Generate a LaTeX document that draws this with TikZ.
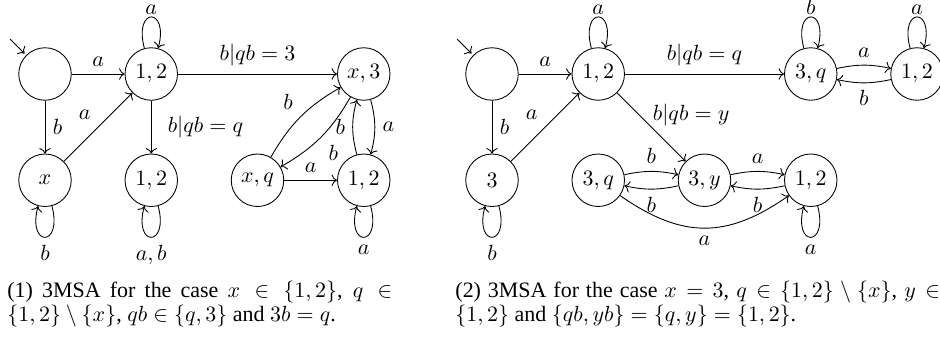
\documentclass[tikz,border=0pt]{standalone}
\usepackage{fontspec}
\setmainfont{Liberation Serif}
\usetikzlibrary{positioning,arrows.meta}

\begin{document}
\begin{tikzpicture}[
	node distance={1.7cm},
	vertex/.style = {draw, circle, minimum size=0.84cm, inner sep=0pt},
	arrow/.style = {->},
	capt/.style = {font=\fontsize{10}{10.8}\selectfont, align=justify, inner sep=0pt, anchor=north west}
	]
	\useasboundingbox (-0.72,1.184) rectangle (14.32,-4.224);
	
	% case x in {1,2}
	\node[vertex] (i1) at (0,0) {};
	\node[vertex] (a1) [right of=i1] {$1,2$};
	\node[vertex] (x1) [below of=i1] {$x$};
	\node[vertex] (b1) [below of=a1] {$1,2$};
	\node[vertex] (c1) [right of=a1, node distance=3.4cm] {$x,3$};
	\node[vertex] (d1) [below of=c1] {$1,2$};
	\node[vertex] (e1) [left of=d1] {$x,q$};
	\coordinate (s1) at ([shift={(135:0.36cm)}]i1.north west);
	
	\draw[arrow, shorten >=1pt] (s1) -- (i1);
	\draw[arrow] (i1) -- node[above] {$a$} (a1);
	\draw[arrow] (i1) -- node[right] {$b$} (x1);
	\draw[arrow] (x1) -- node[above left] {$a$} (a1);
	\draw[arrow] (a1) -- node[above] {$b|qb=3$} (c1);
	\draw[arrow] (a1) -- node[right=4pt] {$b|qb=q$} (b1);
	\draw[arrow] (e1) to[bend left=15] node[above left] {$b$} (c1);
	\draw[arrow] (c1) to[bend left=15] node[below right] {$b$} (e1);
	\draw[arrow] (e1) -- node[above] {$a$} (d1);
	\draw[arrow] (c1) to[bend left=15] node[right] {$a$} (d1);
	\draw[arrow] (d1) to[bend left=15] node[left] {$b$} (c1);
	\draw[arrow] (a1) to[loop above] node[above, inner sep=1pt] {$a$} (a1);
	\draw[arrow] (x1) to[out=-75, in=-105, loop] node[below] {$b$} (x1);
	\draw[arrow] (b1) to[out=-75, in=-105, loop] node[below] {$a,b$} (b1);
	\draw[arrow] (d1) to[out=-75, in=-105, loop] node[below] {$a$} (d1);
	
	% case x = 3
	\node[vertex] (i2) at (7.152,0) {};
	\node[vertex] (a2) [right of=i2] {$1,2$};
	\node[vertex] (t2) [below of=i2] {$3$};
	\node[vertex] (p2) [right of=a2, node distance=3.4cm] {$3,q$};
	\node[vertex] (q2) [right of=p2] {$1,2$};
	\node[vertex] (x2) [below of=a2] {$3,q$};
	\node[vertex] (y2) [right of=x2] {$3,y$};
	\node[vertex] (r2) [right of=y2] {$1,2$};
	\coordinate (s2) at ([shift={(135:0.36cm)}]i2.north west);
	
	\draw[arrow, shorten >=1pt] (s2) -- (i2);
	\draw[arrow] (i2) -- node[above] {$a$} (a2);
	\draw[arrow] (i2) -- node[right] {$b$} (t2);
	\draw[arrow] (t2) -- node[above left] {$a$} (a2);
	\draw[arrow] (a2) -- node[above] {$b|qb=q$} (p2);
	\draw[arrow] (a2) -- node[above right, inner sep=0.5pt] {$b|qb=y$} (y2);
	\draw[arrow] (p2) to[bend left=12] node[above] {$a$} (q2);
	\draw[arrow] (q2) to[bend left=12] node[below] {$b$} (p2);
	\draw[arrow] (x2) to[bend left=12] node[above] {$b$} (y2);
	\draw[arrow] (y2) to[bend left=12] node[below] {$b$} (x2);
	\draw[arrow] (y2) to[bend left=12] node[above] {$a$} (r2);
	\draw[arrow] (r2) to[bend left=12] node[below] {$b$} (y2);
	\draw[arrow] (x2) to[bend right=35, looseness=1.15] node[below] {$a$} (r2);
	\draw[arrow] (a2) to[loop above] node[above, inner sep=1pt] {$a$} (a2);
	\draw[arrow] (p2) to[loop above] node[above, inner sep=1pt] {$b$} (p2);
	\draw[arrow] (q2) to[loop above] node[above, inner sep=1pt] {$a$} (q2);
	\draw[arrow] (t2) to[out=-75, in=-105, loop] node[below] {$b$} (t2);
	\draw[arrow] (r2) to[out=-75, in=-105, loop] node[below] {$a$} (r2);
	
	% captions
	\node[capt, text width=6.16cm] (cap1) at (-0.61,-3.31) {(1) 3MSA for the case $x\in\{1,2\}$, $q\in\{1,2\}\setminus\{x\}$, $qb\in\{q,3\}$ and $3b=q$.};
	\node[capt, text width=7.9cm] (cap2) at (6.56,-3.31) {(2) 3MSA for the case $x=3$, $q\in\{1,2\}\setminus\{x\}$, $y\in{}$\linebreak $\{1,2\}$ and $\{qb,yb\}=\{q,y\}=\{1,2\}$.};
\end{tikzpicture}
\end{document}
